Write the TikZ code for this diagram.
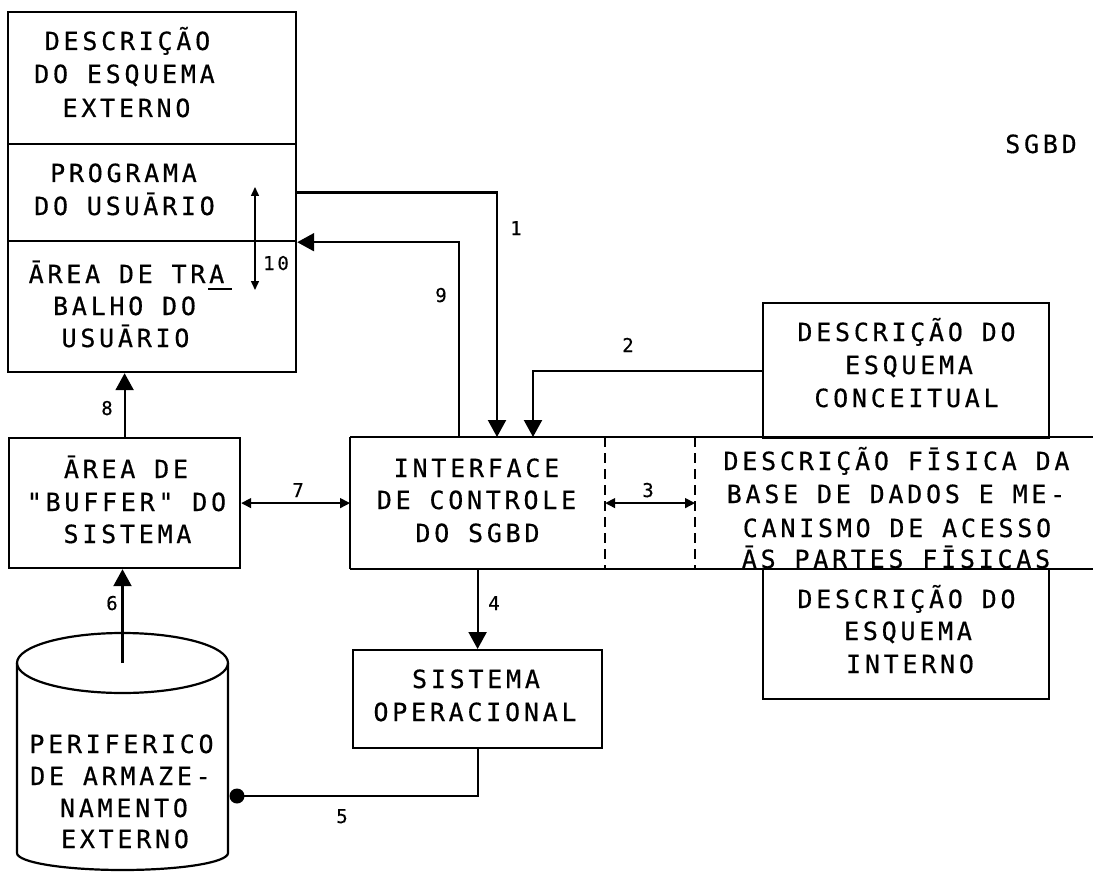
\documentclass[tikz,border=0pt]{standalone}
\usepackage{fontspec}
\usetikzlibrary{arrows.meta,calc}
\newfontfamily\tw[LetterSpace=15,FakeBold=0.5]{DejaVu Sans Mono}
\begin{document}
\begin{tikzpicture}[x=1pt,y=-1pt,
  line width=2.2pt,
  box/.style={draw, rectangle, inner sep=0pt, anchor=north west},
  zone/.style={rectangle, inner sep=0pt, anchor=north west},
  txt/.style={font=\tw\fontsize{25}{30}\selectfont, inner sep=0pt, anchor=base},
  lbl/.style={font=\tw\fontsize{19}{20}\selectfont, inner sep=0pt, anchor=base},
  bigarrow/.style={-{Triangle[length=17pt,width=18pt]}},
  thinarrow/.style={line width=1.5pt,{Triangle[length=10pt,width=10pt]}-{Triangle[length=10pt,width=10pt]}},
  tinyarrow/.style={line width=1.5pt,{Triangle[length=9pt,width=8pt]}-{Triangle[length=9pt,width=8pt]}},
  dashline/.style={line width=1.5pt, dash pattern=on 10pt off 6pt}]
\useasboundingbox (0,0) rectangle (1093,872);

% ---- boxes ----
\node[box, minimum width=288pt, minimum height=132pt] (ext) at (7,11) {};
\node[box, minimum width=288pt, minimum height=97pt] (prog) at (7,143) {};
\node[box, minimum width=288pt, minimum height=131pt] (trab) at (7,240) {};
\node[box, minimum width=231pt, minimum height=130pt] (buf) at (8,437) {};
\node[zone, minimum width=253pt, minimum height=130pt] (intf) at (350,437) {};
\node[zone, minimum width=398pt, minimum height=130pt] (phys) at (695,437) {};
\node[box, minimum width=286pt, minimum height=135pt] (conc) at (762,302) {};
\node[box, minimum width=286pt, minimum height=130pt] (intn) at (762,568) {};
\node[box, minimum width=249pt, minimum height=98pt] (so) at (352,649) {};

% band (interface + physical description)
\draw (intf.north west) -- (phys.north east);
\draw (intf.south west) -- (phys.south east);
\draw (intf.north west) -- (intf.south west);
\draw[dashline] (intf.north east) -- (intf.south east);
\draw[dashline] (phys.north west) -- (phys.south west);

% cylinder
\coordinate (cyltop) at (122.5,663);
\draw (cyltop) ellipse [x radius=105.5pt, y radius=30pt];
\draw (17,663) -- (17,853)
  .. controls (17,862.4) and (64.3,870) .. (122.5,870)
  .. controls (180.7,870) and (228,862.4) .. (228,853) -- (228,663);

% ---- texts ----
\node[txt] (ext1) at (127.5,50) {DESCRIÇÃO};
\node[txt] (ext2) at (124.5,83) {DO ESQUEMA};
\node[txt] (ext3) at (126.5,117) {EXTERNO};

\node[txt] (prog1) at (123.5,182) {PROGRAMA};
\node[txt] (prog2) at (124.5,215) {DO USUĀRIO};

\node[txt] (trab1) at (126.5,283) {ĀREA DE TRA\rlap{\hspace{-16pt}\rule[-7pt]{24pt}{2pt}}};
\node[txt] (trab2) at (124.5,315) {BALHO DO};
\node[txt] (trab3) at (125.5,347) {USUĀRIO};

\node[txt] (buf1) at (126,478) {ĀREA DE};
\node[txt] (buf2) at (126.5,511) {"BUFFER" DO};
\node[txt] (buf3) at (127.5,543) {SISTEMA};

\node[txt] (intf1) at (476.5,477) {INTERFACE};
\node[txt] (intf2) at (476.5,509) {DE CONTROLE};
\node[txt] (intf3) at (477.5,542) {DO SGBD};

\node[txt] (phys1) at (896.5,470) {DESCRIÇÃO FĪSICA DA};
\node[txt] (phys2) at (896,503) {BASE DE DADOS E ME-};
\node[txt] (phys3) at (897,537) {CANISMO DE ACESSO};
\node[txt] (phys4) at (896,568) {ĀS PARTES FĪSICAS};

\node[txt] (conc1) at (906.5,341) {DESCRIÇÃO DO};
\node[txt] (conc2) at (909,374) {ESQUEMA};
\node[txt] (conc3) at (906.5,407) {CONCEITUAL};

\node[txt] (intn1) at (906.5,608) {DESCRIÇÃO DO};
\node[txt] (intn2) at (908,640) {ESQUEMA};
\node[txt] (intn3) at (910,673) {INTERNO};

\node[txt] (so1) at (476,688) {SISTEMA};
\node[txt] (so2) at (475,721) {OPERACIONAL};

\node[txt] (cyl1) at (121.5,753) {PERIFERICO};
\node[txt] (cyl2) at (120.5,785) {DE ARMAZE-};
\node[txt] (cyl3) at (124,817) {NAMENTO};
\node[txt] (cyl4) at (125,848) {EXTERNO};

\node[txt] (sgbd) at (1041,153) {SGBD};

% ---- connector labels ----
\node[lbl] (l1) at (516,235) {1};
\node[lbl] (l2) at (628,352) {2};
\node[lbl] (l3) at (648,497) {3};
\node[lbl] (l4) at (494,610) {4};
\node[lbl] (l5) at (342,823) {5};
\node[lbl] (l6) at (112,610) {6};
\node[lbl] (l7) at (298,497) {7};
\node[lbl] (l8) at (107,415) {8};
\node[lbl] (l9) at (441,302) {9};
\node[lbl] (l10) at (276,270) {10};

% ---- connectors ----
\coordinate (in1) at (497,437);
\coordinate (in2) at (533,437);
\coordinate (out9) at (459,437);
\coordinate (a10t) at (255,187);
\coordinate (a10b) at (255,290);
\node[circle, fill, inner sep=0pt, minimum size=15pt] (dot) at (237,796) {};

\draw[bigarrow] (prog.east) -| (in1);
\draw[bigarrow] (out9) |- (prog.south east);
\draw[bigarrow] (conc.west) -| (in2);
\draw[bigarrow] (intf.south) -- (so.north);
\draw (so.south) |- (dot.center);
\draw[bigarrow] (cyltop) -- (cyltop |- buf.south);
\draw[bigarrow] (buf.north) -- (buf.north |- trab.south);
\draw[thinarrow] (buf.east) -- (intf.west);
\draw[thinarrow] (intf.east) -- (phys.west);
\draw[tinyarrow] (a10t) -- (a10b);
\end{tikzpicture}
\end{document}
